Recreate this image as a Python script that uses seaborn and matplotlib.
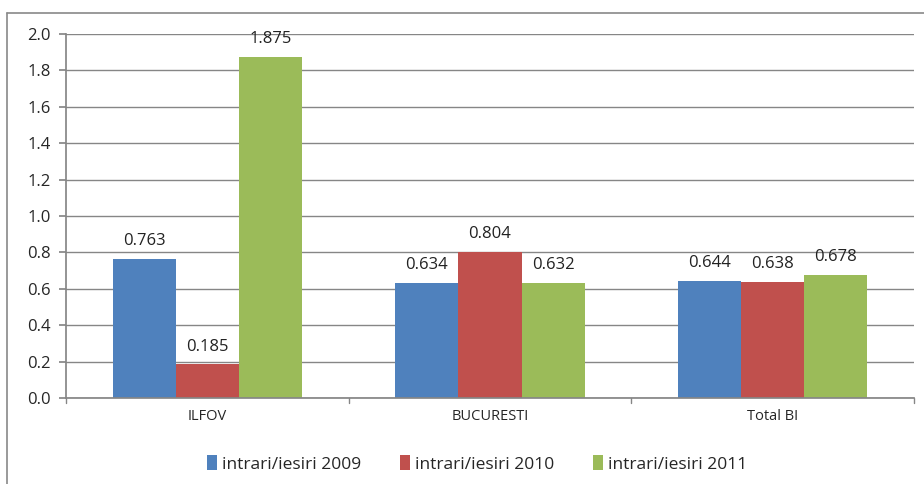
import pandas as pd
import seaborn as sns
import matplotlib.pyplot as plt
from matplotlib.lines import Line2D

# Data
regions = ['ILFOV', 'BUCURESTI', 'Total BI']
series = ['intrari/iesiri 2009', 'intrari/iesiri 2010', 'intrari/iesiri 2011']
v2009 = [0.763, 0.634, 0.644]
v2010 = [0.185, 0.804, 0.638]
v2011 = [1.875, 0.632, 0.678]
colors = ['#4F81BD', '#C0504D', '#9BBB59']

df = pd.DataFrame({
    'region': regions * 3,
    'serie': [series[0]] * 3 + [series[1]] * 3 + [series[2]] * 3,
    'value': v2009 + v2010 + v2011,
})

sns.set_theme(style='white')
plt.rcParams['font.family'] = ['Open Sans', 'DejaVu Sans']

fig = plt.figure(figsize=(9.24, 4.84), dpi=100)
ax = fig.add_axes([66 / 924, 1 - 398 / 484, 848 / 924, 364 / 484])

sns.barplot(data=df, x='region', y='value', hue='serie', palette=colors,
            width=0.67, saturation=1, linewidth=0, ax=ax, legend=True)

for c in ax.containers:
    ax.bar_label(c, fmt='%.3f', padding=7, fontsize=12, color='#222222')

ax.set_ylim(0, 2.0)
ax.set_yticks([i / 10 for i in range(0, 21, 2)])
ax.set_yticklabels([f'{i / 10:.1f}' for i in range(0, 21, 2)], fontsize=12)
ax.yaxis.grid(True, color='#868686', linewidth=1)
ax.set_axisbelow(True)
ax.set_xlim(-0.5, 2.5)
ax.set_xlabel('')
ax.set_ylabel('')
ax.tick_params(axis='x', labelsize=10.5, length=0, pad=8)
ax.tick_params(axis='y', left=True, length=5, color='#868686', pad=6)
for s in ['top', 'right']:
    ax.spines[s].set_visible(False)
for s in ['left', 'bottom']:
    ax.spines[s].set_color('#868686')

# category separator ticks on x axis
for xb in [-0.5, 0.5, 1.5, 2.5]:
    ax.plot([xb, xb], [0, -0.03], color='#868686', lw=1, clip_on=False)

ax.legend(loc='upper center', bbox_to_anchor=(0.485, -0.115), ncol=3, frameon=False,
          fontsize=12.5, handlelength=0.6, handleheight=0.9, handletextpad=0.3,
          columnspacing=2.2)

# chart frame (cropped)
fig.add_artist(Line2D([7 / 924, 1], [1 - 13 / 484, 1 - 13 / 484], color='#898989', lw=1.2))
fig.add_artist(Line2D([7 / 924, 7 / 924], [0, 1 - 13 / 484], color='#898989', lw=1.2))

fig.savefig('out.png', dpi=100)
